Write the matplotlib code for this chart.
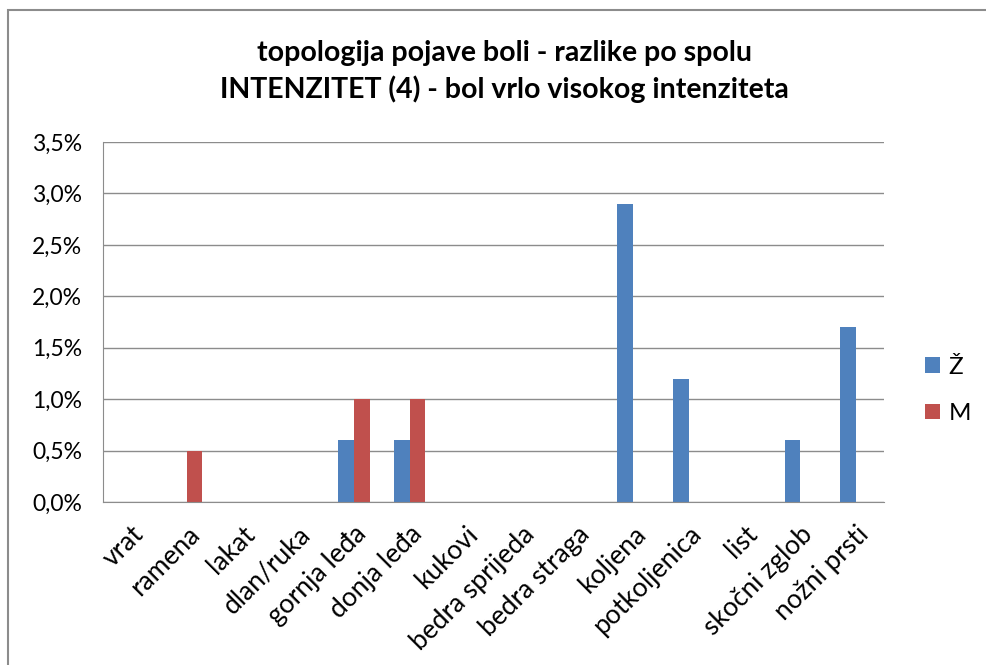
import numpy as np
import matplotlib.pyplot as plt
from matplotlib.patches import Rectangle
from matplotlib.ticker import FuncFormatter

plt.rcParams['font.family'] = ['Lato', 'DejaVu Sans']

categories = ['vrat', 'ramena', 'lakat', 'dlan/ruka', 'gornja leđa', 'donja leđa', 'kukovi',
              'bedra sprijeda', 'bedra straga', 'koljena', 'potkoljenica', 'list',
              'skočni zglob', 'nožni prsti']
zene = [0, 0, 0, 0, 0.6, 0.6, 0, 0, 0, 2.9, 1.2, 0, 0.6, 1.7]
muski = [0, 0.5, 0, 0, 1.0, 1.0, 0, 0, 0, 0, 0, 0, 0, 0]
title = 'topologija pojave boli - razlike po spolu\nINTENZITET (4) - bol vrlo visokog intenziteta'

fig = plt.figure(figsize=(9.86, 6.65), dpi=100)
ax = fig.add_axes([0.1045, 0.2451, 0.792, 0.5413])

x = np.arange(len(categories))
w = 0.28
ax.bar(x - w/2, zene, w, color='#4F81BD', label='Ž')
ax.bar(x + w/2, muski, w, color='#C0504D', label='M')

ax.set_xlim(-0.5, len(categories) - 0.5)
ax.set_ylim(0, 3.5)
ax.set_yticks(np.arange(0, 3.51, 0.5))
ax.yaxis.set_major_formatter(FuncFormatter(lambda v, p: ('%.1f%%' % v).replace('.', ',')))
ax.yaxis.grid(True, color='#8c8c8c', linewidth=1)
ax.set_axisbelow(True)
for s in ['top', 'right']:
    ax.spines[s].set_visible(False)
ax.spines['left'].set_color('#8c8c8c')
ax.spines['bottom'].set_color('#8c8c8c')
ax.tick_params(axis='y', length=0, labelsize=16.5, pad=15)
ax.tick_params(axis='x', length=0, labelsize=19, pad=14)
ax.set_xticks(x)
ax.set_xticklabels(categories, rotation=45, ha='right', rotation_mode='anchor')

fig.text(0.512, 0.893, title, ha='center', va='center', fontsize=20.5, fontweight='bold',
         linespacing=1.42)

ax.legend(loc='center left', bbox_to_anchor=(1.025, 0.31), frameon=False, fontsize=17.5,
          handlelength=0.6, handleheight=0.6, labelspacing=1.05, handletextpad=0.35)

fig.patches.append(Rectangle((0.008, -0.1), 1.1, 1.085, transform=fig.transFigure,
                             fill=False, edgecolor='#8c8c8c', linewidth=1.5))

fig.savefig('out.png', dpi=100)
